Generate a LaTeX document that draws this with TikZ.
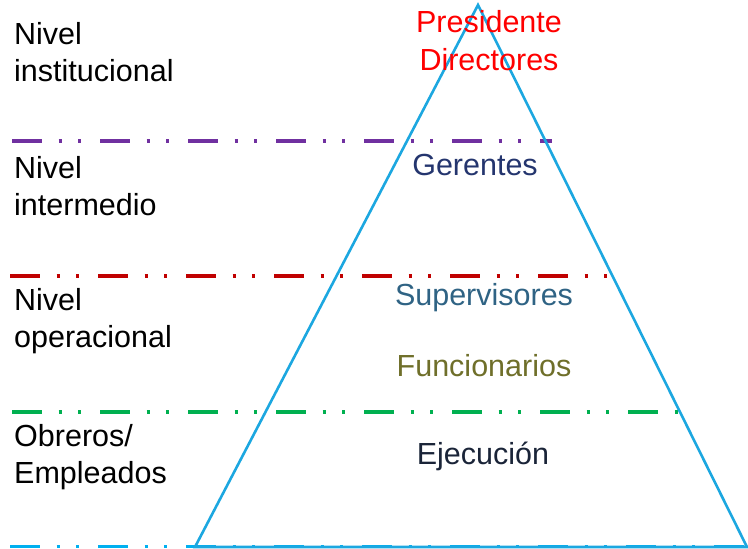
\documentclass[tikz,border=0pt]{standalone}
\usepackage{fontspec}
\setmainfont{Liberation Sans}
\usetikzlibrary{positioning}
\definecolor{lvlpurple}{HTML}{7030A0}
\definecolor{lvlred}{HTML}{C00000}
\definecolor{lvlgreen}{HTML}{00B050}
\definecolor{lvlblue}{HTML}{00B0F0}
\definecolor{pyrblue}{HTML}{1CA7E0}
\definecolor{txtnavy}{HTML}{24356E}
\definecolor{txtteal}{HTML}{2F6384}
\definecolor{txtolive}{HTML}{6F6F2A}
\definecolor{txtdark}{HTML}{1A2438}
\tikzset{
  level line/.style={
    line width=3.6pt,
    dash pattern=on 30pt off 16.5pt on 3pt off 16.5pt on 3pt off 19pt
  },
  side label/.style={
    anchor=west,
    align=left,
    inner sep=0pt,
    text=black,
    font=\fontsize{30.5}{37.5}\selectfont
  },
  rank label/.style={
    align=center,
    inner sep=0pt,
    font=\fontsize{30.5}{38}\selectfont
  },
  pyramid/.style={
    draw=pyrblue,
    line width=2.6pt,
    line join=miter
  }
}
\begin{document}
\begin{tikzpicture}[x=1pt,y=-1pt]
\useasboundingbox (0,0) rectangle (748,549);
% level separators
\draw[level line,lvlpurple] (12,141) -- (552,141);
\draw[level line,lvlred]    (10,276) -- (612,276);
\draw[level line,lvlgreen]  (12,412) -- (680,412);
\draw[level line,lvlblue]   (10,546.5) -- (748,546.5);
% pyramid
\coordinate (top)   at (478,5);
\coordinate (left)  at (195,547);
\coordinate (right) at (747,547);
\draw[pyramid] (top) -- (left) -- (right) -- cycle;
% levels on the left
\node[side label] (inst) at (14,52)  {Nivel\\institucional};
\node[side label] (inter) at (14,186) {Nivel\\intermedio};
\node[side label] (oper) at (14,321) {Nivel\\operacional};
\node[side label] (obre) at (14,457) {Obreros/\\Empleados};
% ranks inside the pyramid
\node[rank label,text=red]      (pres) at (489,41)  {Presidente\\Directores};
\node[rank label,text=txtnavy]  (ger)  at (475,165) {Gerentes};
\node[rank label,text=txtteal]  (sup)  at (484,298) {Supervisores};
\node[rank label,text=txtolive] (func) at (484,366) {Funcionarios};
\node[rank label,text=txtdark]  (eje)  at (483,456) {Ejecución};
\end{tikzpicture}
\end{document}
